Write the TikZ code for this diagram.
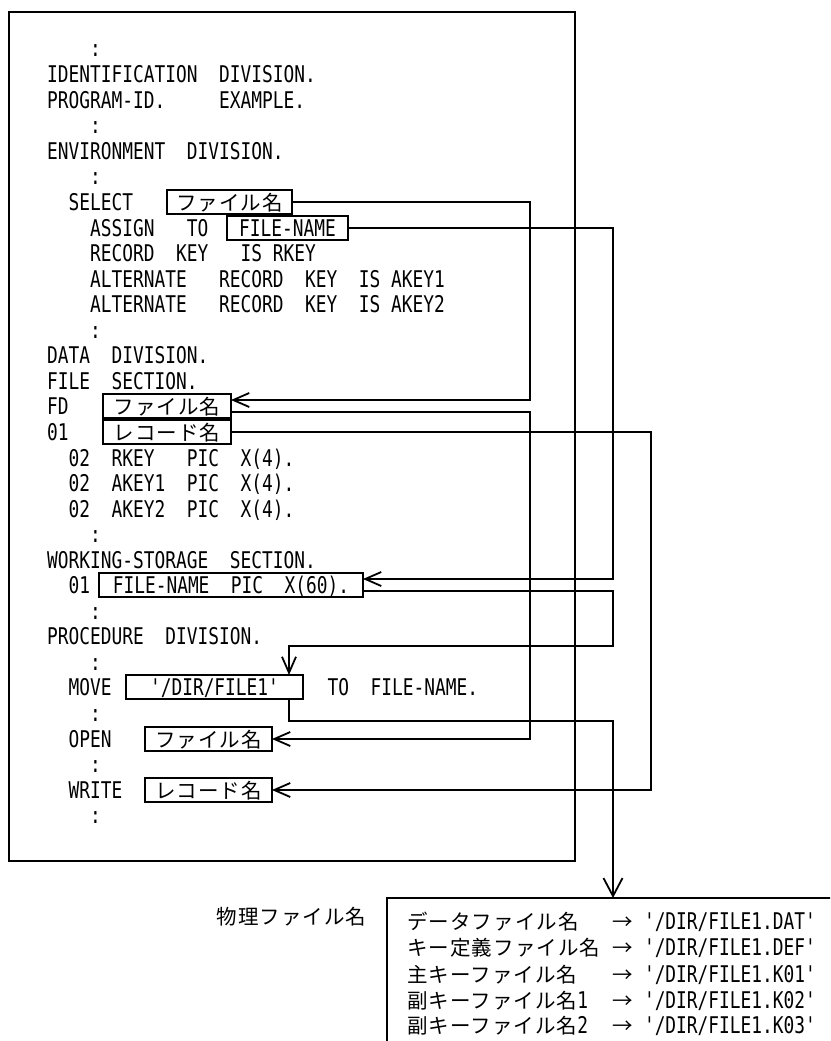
\documentclass[tikz,border=0pt]{standalone}
\usepackage{fontspec}
\usetikzlibrary{arrows.meta,calc}
\newfontfamily\latfam[FakeStretch=0.776]{DejaVu Sans Mono}
\newfontfamily\jpfam[LetterSpace=4.9]{Noto Sans CJK JP}
\newcommand\latf{\latfam\fontsize{23}{25}\selectfont\fontdimen2\font=10.75pt\relax\fontdimen3\font=0pt\relax\fontdimen4\font=0pt\relax\frenchspacing}
\newcommand\jpf{\jpfam\fontsize{20.5}{25}\selectfont}
\newcommand\prow[2]{\makebox[204.25pt][l]{#1}\makebox[21.5pt]{\jpf →}\hspace{10.75pt}#2}
\begin{document}
\begin{tikzpicture}[x=1pt,y=-1pt,
  ln/.style={anchor=west,inner sep=0pt,text height=16.5pt,text depth=0.5pt,font=\latf},
  bx/.style={draw,line width=1.8pt,anchor=west,inner sep=0pt,outer sep=0pt,minimum height=24pt,text height=16.5pt,text depth=0.5pt,font=\latf},
  conn/.style={line width=1.8pt},
  arrowend/.style={-{Straight Barb[length=16pt,width=14pt]}},
  bigarrowend/.style={-{Straight Barb[length=18pt,width=19pt]}},
  mainframe/.style={line width=2pt}]
\fill[white] (0,0) rectangle (830,1041);
\path[use as bounding box] (0,0) rectangle (830,1041);
\clip (0,0) rectangle (830,1041);
% main frame
\draw[mainframe] (9,12) rectangle (575,861);
% listing
\node[ln] (l1) at (47,49) {~~~~:};
\node[ln] (l2) at (47,74) {IDENTIFICATION~~DIVISION.};
\node[ln] (l3) at (47,100) {PROGRAM-ID.~~~~~EXAMPLE.};
\node[ln] (l4) at (47,125) {~~~~:};
\node[ln] (l5) at (47,151) {ENVIRONMENT~~DIVISION.};
\node[ln] (l6) at (47,176) {~~~~:};
\node[ln] (l7) at (47,202) {~~SELECT};
\node[bx,minimum width=125pt] (sel) at (167,202) {\jpf ファイル名};
\node[ln] (l8) at (47,228) {~~~~ASSIGN~~~TO};
\node[bx,minimum width=121pt] (asg) at (227,228) {FILE-NAME};
\node[ln] (l9) at (47,253) {~~~~RECORD~~KEY~~~IS~RKEY};
\node[ln] (l10) at (47,279) {~~~~ALTERNATE~~~RECORD~~KEY~~IS~AKEY1};
\node[ln] (l11) at (47,304) {~~~~ALTERNATE~~~RECORD~~KEY~~IS~AKEY2};
\node[ln] (l12) at (47,330) {~~~~:};
\node[ln] (l13) at (47,355) {DATA~~DIVISION.};
\node[ln] (l14) at (47,381) {FILE~~SECTION.};
\node[ln] (l15) at (47,406) {FD};
\node[bx,minimum width=128pt] (fd) at (103,406) {\jpf ファイル名};
\node[ln] (l16) at (47,432) {01};
\node[bx,minimum width=128pt] (rec) at (103,432) {\jpf レコード名};
\node[ln] (l17) at (47,458) {~~02~~RKEY~~~PIC~~X(4).};
\node[ln] (l18) at (47,483) {~~02~~AKEY1~~PIC~~X(4).};
\node[ln] (l19) at (47,509) {~~02~~AKEY2~~PIC~~X(4).};
\node[ln] (l20) at (47,534) {~~~~:};
\node[ln] (l21) at (47,560) {WORKING-STORAGE~~SECTION.};
\node[ln] (l22) at (47,585) {~~01};
\node[bx,minimum width=264pt] (ws) at (99,585) {FILE-NAME~~PIC~~X(60).};
\node[ln] (l23) at (47,611) {~~~~:};
\node[ln] (l24) at (47,636) {PROCEDURE~~DIVISION.};
\node[ln] (l25) at (47,662) {~~~~:};
\node[ln] (l26) at (47,687) {~~MOVE};
\node[bx,minimum width=177pt] (mv) at (126,687) {'/DIR/FILE1'\hspace{14pt}};
\node[ln] (l26b) at (327.5,687) {TO~~FILE-NAME.};
\node[ln] (l27) at (47,713) {~~~~:};
\node[ln] (l28) at (47,739) {~~OPEN};
\node[bx,minimum width=127pt] (op) at (145,739) {\jpf ファイル名};
\node[ln] (l29) at (47,764) {~~~~:};
\node[ln] (l30) at (47,790) {~~WRITE};
\node[bx,minimum width=127pt] (wr) at (145,790) {\jpf レコード名};
\node[ln] (l31) at (47,815) {~~~~:};
% physical file names
\node[anchor=west,inner sep=0pt,font=\jpf] (pl) at (216.4,916.7) {物理ファイル名};
\node[draw,line width=1.8pt,anchor=north west,outer sep=0pt,minimum width=480pt,minimum height=180pt,inner sep=0pt] (phys) at (387,898) {};
\node[ln] (p1) at (407.3,921.7) {\prow{\jpf データファイル名}{'/DIR/FILE1.DAT'}};
\node[ln] (p2) at (407.3,947.3) {\prow{\jpf キー定義ファイル名}{'/DIR/FILE1.DEF'}};
\node[ln] (p3) at (407.3,974) {\prow{\jpf 主キーファイル名}{'/DIR/FILE1.K01'}};
\node[ln] (p4) at (407.3,1000) {\prow{{\jpf 副キーファイル名}1}{'/DIR/FILE1.K02'}};
\node[ln] (p5) at (407.3,1025.5) {\prow{{\jpf 副キーファイル名}2}{'/DIR/FILE1.K03'}};
% routing coordinates
\coordinate (xa) at (530,0);
\coordinate (xb) at (613,0);
\coordinate (xc) at (651,0);
\coordinate (mvtop) at (289,646);
\coordinate (phx) at (613,721);
\coordinate (fdin) at ([yshift=6pt]fd.east);
\coordinate (fdout) at ([yshift=-6pt]fd.east);
\coordinate (wsin) at ([yshift=6pt]ws.east);
\coordinate (wsout) at ([yshift=-6pt]ws.east);
% connectors
\draw[conn,arrowend] (sel.east) -- (sel.east -| xa) |- (fdin);
\draw[conn,arrowend] (asg.east) -- (asg.east -| xb) |- (wsin);
\draw[conn,arrowend] (fdout) -- (fdout -| xa) |- (op.east);
\draw[conn,arrowend] (rec.east) -- (rec.east -| xc) |- (wr.east);
\draw[conn,arrowend] (wsout) -- (wsout -| xb) |- (mvtop) -- (mvtop |- mv.north);
\draw[conn,bigarrowend] (mvtop |- mv.south) |- (phx) -- (phx |- phys.north);
\end{tikzpicture}
\end{document}
